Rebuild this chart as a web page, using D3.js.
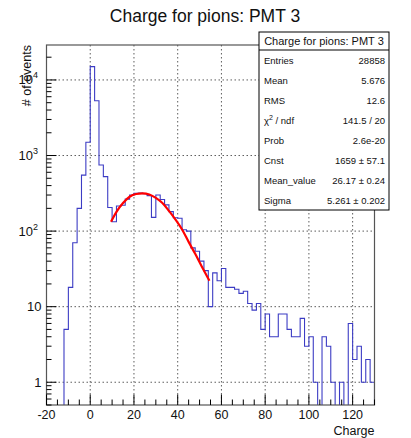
<!DOCTYPE html>
<html>
<head>
<meta charset="utf-8">
<script src="https://cdn.jsdelivr.net/npm/d3@7/dist/d3.min.js"></script>
<style>
  html, body { margin: 0; padding: 0; background: #fff; }
  text { font-family: "Liberation Sans", Arial, Helvetica, sans-serif; }
</style>
</head>
<body>
<svg id="chart" width="411" height="438"></svg>
<script>
// ---------- data ----------
const title = "Charge for pions: PMT 3";
const xTitle = "Charge";
const yTitle = "# of events";
const xDomain = [-20, 130];
const yDomain = [0.5, 29000];
const binWidth = 2;
const binLowEdges = [
  -20,-18,-16,-14,-12,-10,-8,-6,-4,-2,
  0,2,4,6,8,10,12,14,16,18,
  20,22,24,26,28,30,32,34,36,38,
  40,42,44,46,48,50,52,54,56,58,
  60,62,64,66,68,70,72,74,76,78,
  80,82,84,86,88,90,92,94,96,98,
  100,102,104,106,108,110,112,114,116,118,
  120,122,124,126,128
];
const binCounts = [
  0,0,0,0,5,18,70,200,550,1500,
  15000,5300,750,525,205,133,215,220,265,300,
  316,318,312,295,152,300,262,222,181,150,
  148,104,100,60,54,40,30,10,28,22,
  32,18,18,17,15,16,11,9,11,5,
  8,4,4,8,8,5,4,4,7,3,
  4,1,0,4,3,1,0,1,0,6,
  2,3,1,2,1
];
// fit curve
const fitX = [9.5, 12, 15, 18, 21, 24, 27, 30, 33, 36, 39, 42, 45, 48, 51, 54.5];
const fitY = [133, 180, 235, 285, 310, 316, 305, 275, 235, 185, 142, 105, 72, 50, 34, 22];
const xMajorTicks = [-20, 0, 20, 40, 60, 80, 100, 120];
const xTickLabels = ["-20", "0", "20", "40", "60", "80", "100", "120"];
const yMajorTicks = [1, 10, 100, 1000, 10000];
const yTickLabels = [["1", ""], ["10", ""], ["10", "2"], ["10", "3"], ["10", "4"]];
const statLabels = ["Entries", "Mean", "RMS", "chi2", "Prob", "Cnst", "Mean_value", "Sigma"];
const statValues = ["28858", "5.676", "12.6", "141.5 / 20", "2.6e-20", "1659 \u00b1 57.1", "26.17 \u00b1 0.24", "5.261 \u00b1 0.202"];

// ---------- layout ----------
const F = { left: 46.5, right: 374.5, top: 45, bottom: 405 };
const svg = d3.select("#chart");
svg.append("rect").attr("width", 411).attr("height", 438).attr("fill", "#fff");

const x = d3.scaleLinear().domain(xDomain).range([F.left, F.right]);
const y = d3.scaleLog().domain(yDomain).range([F.bottom, F.top]);

svg.append("defs").append("clipPath").attr("id", "clip")
  .append("rect").attr("x", F.left).attr("y", F.top)
  .attr("width", F.right - F.left).attr("height", F.bottom - F.top);

// grid
const grid = svg.append("g").attr("stroke", "#333").attr("stroke-width", 0.8)
  .attr("stroke-dasharray", "1.5,2.5");
xMajorTicks.filter(v => v > xDomain[0]).forEach(v => {
  grid.append("line").attr("x1", x(v)).attr("x2", x(v)).attr("y1", F.top).attr("y2", F.bottom);
});
yMajorTicks.forEach(v => {
  grid.append("line").attr("x1", F.left).attr("x2", F.right).attr("y1", y(v)).attr("y2", y(v));
});

// histogram
const plot = svg.append("g").attr("clip-path", "url(#clip)");
const yb = F.bottom + 5;
let p = d3.path();
p.moveTo(x(binLowEdges[0]), yb);
binLowEdges.forEach((lo, i) => {
  const c = binCounts[i];
  const yy = c > 0 ? y(c) : yb;
  p.lineTo(x(lo), yy);
  p.lineTo(x(lo + binWidth), yy);
});
p.lineTo(x(binLowEdges[binLowEdges.length - 1] + binWidth), yb);
plot.append("path").attr("d", p.toString()).attr("fill", "none")
  .attr("stroke", "#3c3cc4").attr("stroke-width", 1.1);

// fit
const fitPts = fitX.map((v, i) => [x(v), y(fitY[i])]);
plot.append("path").attr("d", d3.line().curve(d3.curveMonotoneX)(fitPts))
  .attr("fill", "none").attr("stroke", "#ff0000").attr("stroke-width", 2.2);

// frame
svg.append("rect").attr("x", F.left).attr("y", F.top)
  .attr("width", F.right - F.left).attr("height", F.bottom - F.top)
  .attr("fill", "none").attr("stroke", "#555").attr("stroke-width", 1.2);

// ticks
const ticks = svg.append("g").attr("stroke", "#000").attr("stroke-width", 1);
d3.range(xDomain[0], xDomain[1] + 0.001, 5).forEach(v => {
  const major = xMajorTicks.includes(v);
  ticks.append("line").attr("x1", x(v)).attr("x2", x(v))
    .attr("y1", F.bottom).attr("y2", F.bottom - (major ? 10.5 : 5.5));
});
y.ticks().forEach(v => {
  const major = yMajorTicks.includes(v);
  ticks.append("line").attr("x1", F.left).attr("x2", F.left + (major ? 10 : 5))
    .attr("y1", y(v)).attr("y2", y(v));
});

// tick labels
xMajorTicks.forEach((v, i) => {
  svg.append("text").attr("x", x(v)).attr("y", 418.5).attr("text-anchor", "middle")
    .attr("font-size", 12.5).attr("fill", "#111").text(xTickLabels[i]);
});
yMajorTicks.forEach((v, i) => {
  const [base, sup] = yTickLabels[i];
  const t = svg.append("text").attr("x", sup ? 38 : 41.5).attr("y", y(v) + 4.5)
    .attr("text-anchor", "end").attr("font-size", 13).attr("fill", "#111");
  t.append("tspan").text(base);
  if (sup) t.append("tspan").attr("dy", -6).attr("font-size", 9).text(sup);
});

// titles
svg.append("text").attr("x", 205).attr("y", 21.5).attr("text-anchor", "middle")
  .attr("font-size", 17.5).attr("fill", "#111").text(title);
svg.append("text").attr("x", F.right).attr("y", 434.5).attr("text-anchor", "end")
  .attr("font-size", 12.5).attr("fill", "#111").text(xTitle);
svg.append("text").attr("transform", `translate(31,${F.top}) rotate(-90)`)
  .attr("text-anchor", "end").attr("font-size", 12.5).attr("fill", "#111").text(yTitle);

// stats box
const S = { x: 259, y: 32, w: 130, h: 178, head: 18 };
const sb = svg.append("g");
sb.append("rect").attr("x", S.x).attr("y", S.y).attr("width", S.w).attr("height", S.h)
  .attr("fill", "#fff").attr("stroke", "#000").attr("stroke-width", 1);
sb.append("line").attr("x1", S.x).attr("x2", S.x + S.w)
  .attr("y1", S.y + S.head).attr("y2", S.y + S.head).attr("stroke", "#000");
sb.append("text").attr("x", S.x + S.w / 2).attr("y", S.y + 13)
  .attr("text-anchor", "middle").attr("font-size", 11).attr("fill", "#111").text(title);
const rowH = (S.h - S.head) / statLabels.length;
statLabels.forEach((lab, i) => {
  const cy = S.y + S.head + rowH * (i + 0.5) + 3.5;
  const t = sb.append("text").attr("x", S.x + 5).attr("y", cy)
    .attr("font-size", 9.5).attr("fill", "#111");
  if (lab === "chi2") {
    t.append("tspan").text("\u03c7");
    t.append("tspan").attr("dy", -4).attr("font-size", 7).text("2");
    t.append("tspan").attr("dy", 4).text(" / ndf");
  } else {
    t.text(lab);
  }
  sb.append("text").attr("x", S.x + S.w - 4).attr("y", cy).attr("text-anchor", "end")
    .attr("font-size", 9.5).attr("fill", "#111").text(statValues[i]);
});
</script>
</body>
</html>
